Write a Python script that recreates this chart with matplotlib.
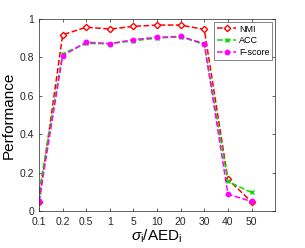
import matplotlib
matplotlib.use('Agg')
import matplotlib.pyplot as plt

plt.rcParams['font.family'] = ['Liberation Sans', 'DejaVu Sans']
plt.rcParams['mathtext.fontset'] = 'custom'
plt.rcParams['mathtext.rm'] = 'Liberation Sans'
plt.rcParams['mathtext.it'] = 'Liberation Sans:italic'

# значения параметра
params = ['0.1', '0.2', '0.5', '1', '5', '10', '20', '30', '40', '50']
nmi = [0.048, 0.918, 0.958, 0.948, 0.962, 0.969, 0.969, 0.946, 0.166, 0.048]
acc = [0.099, 0.820, 0.873, 0.872, 0.887, 0.901, 0.908, 0.868, 0.154, 0.097]
fscore = [0.052, 0.809, 0.880, 0.872, 0.893, 0.905, 0.910, 0.872, 0.088, 0.050]

x = list(range(1, len(params) + 1))

fig = plt.figure(figsize=(3.05, 2.48), dpi=100)
ax = fig.add_axes([0.128, 0.149, 0.774, 0.774])

ax.plot(x, nmi, '--', color='red', marker='D', markersize=3.2,
        markerfacecolor='white', markeredgecolor='red', linewidth=1.1, label='NMI')
ax.plot(x, acc, '--', color='#00dd00', marker='x', markersize=3.2,
        linewidth=1.1, label='ACC')
ax.plot(x, fscore, '--', color='magenta', marker='o', markersize=3.2,
        linewidth=1.1, label='F-score')

ax.set_xlim(1, 11)
ax.set_ylim(0, 1)
ax.set_xticks(x)
ax.set_xticklabels(params)
ax.set_yticks([0, 0.2, 0.4, 0.6, 0.8, 1])
ax.set_yticklabels(['0', '0.2', '0.4', '0.6', '0.8', '1'])
ax.tick_params(direction='in', length=2.5, labelsize=7.5, colors='#262626',
               top=True, right=True, width=0.5)
ax.tick_params(axis='x', pad=4)
for s in ax.spines.values():
    s.set_linewidth(0.5)
    s.set_color('#262626')

ax.set_xlabel(r'$\it{\sigma}_{\rm i}$/AED$_{\rm i}$', fontsize=11, labelpad=1)
ax.set_ylabel('Performance', fontsize=11, labelpad=3)

leg = ax.legend(loc='upper right', fontsize=6.5, frameon=True, fancybox=False,
                edgecolor='#262626', handlelength=2.2, borderpad=0.3,
                labelspacing=0.3, handletextpad=0.3, borderaxespad=0.3)
leg.get_frame().set_linewidth(0.5)

plt.savefig('out.png', dpi=100)
